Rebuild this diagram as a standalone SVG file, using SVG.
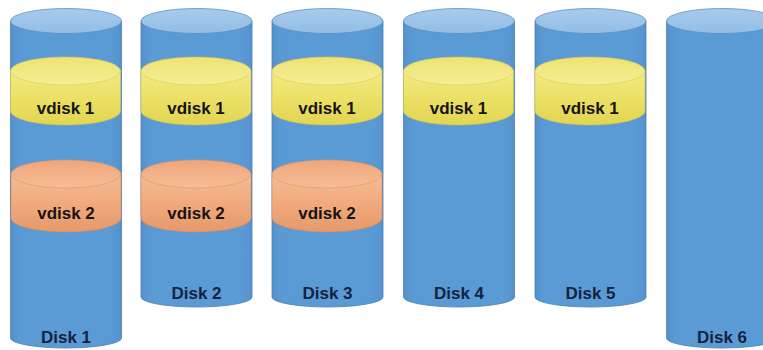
<svg xmlns="http://www.w3.org/2000/svg" width="763" height="350" viewBox="0 0 763 350">
<defs>
<linearGradient id="bodyG" x1="0" y1="0" x2="1" y2="0">
<stop offset="0" stop-color="#5592cd"/>
<stop offset="0.1" stop-color="#5b9bd5"/>
<stop offset="0.9" stop-color="#5b9bd5"/>
<stop offset="1" stop-color="#5592cd"/>
</linearGradient>
<linearGradient id="topG" x1="0" y1="0" x2="0" y2="1">
<stop offset="0" stop-color="#a7cbec"/>
<stop offset="1" stop-color="#93bde5"/>
</linearGradient>
<linearGradient id="yelSide" x1="0" y1="0" x2="0" y2="1">
<stop offset="0" stop-color="#f3ea86"/>
<stop offset="0.5" stop-color="#ece066"/>
<stop offset="1" stop-color="#e2d552"/>
</linearGradient>
<linearGradient id="yelTop" x1="0" y1="0" x2="0" y2="1">
<stop offset="0" stop-color="#eee272"/>
<stop offset="1" stop-color="#f6ee96"/>
</linearGradient>
<linearGradient id="orSide" x1="0" y1="0" x2="0" y2="1">
<stop offset="0" stop-color="#f6bc96"/>
<stop offset="0.5" stop-color="#f1aa7c"/>
<stop offset="1" stop-color="#e6996a"/>
</linearGradient>
<linearGradient id="orTop" x1="0" y1="0" x2="0" y2="1">
<stop offset="0" stop-color="#efa67a"/>
<stop offset="1" stop-color="#f6bd98"/>
</linearGradient>
</defs>
<style>
.body{fill:url(#bodyG);stroke:#4a7fb3;stroke-width:0.8}
.top{fill:url(#topG);stroke:#5a8fc4;stroke-width:0.8}
.ys{fill:url(#yelSide);stroke:#d2c347;stroke-width:0.6}
.yt{fill:url(#yelTop);stroke:#d9cb4a;stroke-width:0.6}
.os{fill:url(#orSide);stroke:#d98a5c;stroke-width:0.6}
.ot{fill:url(#orTop);stroke:#de9367;stroke-width:0.6}
.lbl{font-family:"Liberation Sans","Noto Sans",Arial,sans-serif;font-weight:bold;font-size:17px;text-anchor:middle}
.dl{fill:#15223f}
.vl{fill:#151515}
</style>
<rect width="763" height="350" fill="#ffffff"/>

<g id="disk1">
<path class="body" d="M10.5,21 L10.5,338 A55.5,10 0 0 0 121.5,338 L121.5,21 Z"/>
<ellipse class="top" cx="66" cy="21" rx="55.5" ry="12.5"/>
<text class="lbl dl" x="66" y="343">Disk 1</text>
</g>
<g id="disk2">
<path class="body" d="M141,21 L141,297 A55.5,10 0 0 0 252,297 L252,21 Z"/>
<ellipse class="top" cx="196.5" cy="21" rx="55.5" ry="12.5"/>
<text class="lbl dl" x="196.5" y="299">Disk 2</text>
</g>
<g id="disk3">
<path class="body" d="M272,21 L272,297 A55.5,10 0 0 0 383,297 L383,21 Z"/>
<ellipse class="top" cx="327.5" cy="21" rx="55.5" ry="12.5"/>
<text class="lbl dl" x="327.5" y="299">Disk 3</text>
</g>
<g id="disk4">
<path class="body" d="M403.5,21 L403.5,297 A55.5,10 0 0 0 514.5,297 L514.5,21 Z"/>
<ellipse class="top" cx="459" cy="21" rx="55.5" ry="12.5"/>
<text class="lbl dl" x="459" y="299">Disk 4</text>
</g>
<g id="disk5">
<path class="body" d="M535,21 L535,297 A55.5,10 0 0 0 646,297 L646,21 Z"/>
<ellipse class="top" cx="590.5" cy="21" rx="55.5" ry="12.5"/>
<text class="lbl dl" x="590.5" y="299">Disk 5</text>
</g>
<g id="disk6">
<path class="body" d="M666.5,21 L666.5,338 A55.5,10 0 0 0 777.5,338 L777.5,21 Z"/>
<ellipse class="top" cx="722" cy="21" rx="55.5" ry="12.5"/>
<text class="lbl dl" x="722" y="343">Disk 6</text>
</g>

<g id="vdisk1-d1">
<path class="ys" d="M10.5,71 L10.5,111 A55,14 0 0 0 120.5,111 L120.5,71 Z"/>
<ellipse class="yt" cx="65.5" cy="71" rx="55" ry="14"/>
<text class="lbl vl" x="65.5" y="114">vdisk 1</text>
</g>
<g id="vdisk1-d2">
<path class="ys" d="M141,71 L141,111 A55,14 0 0 0 251,111 L251,71 Z"/>
<ellipse class="yt" cx="196" cy="71" rx="55" ry="14"/>
<text class="lbl vl" x="196" y="114">vdisk 1</text>
</g>
<g id="vdisk1-d3">
<path class="ys" d="M272,71 L272,111 A55,14 0 0 0 382,111 L382,71 Z"/>
<ellipse class="yt" cx="327" cy="71" rx="55" ry="14"/>
<text class="lbl vl" x="327" y="114">vdisk 1</text>
</g>
<g id="vdisk1-d4">
<path class="ys" d="M403.5,71 L403.5,111 A55,14 0 0 0 513.5,111 L513.5,71 Z"/>
<ellipse class="yt" cx="458.5" cy="71" rx="55" ry="14"/>
<text class="lbl vl" x="458.5" y="114">vdisk 1</text>
</g>
<g id="vdisk1-d5">
<path class="ys" d="M535,71 L535,111 A55,14 0 0 0 645,111 L645,71 Z"/>
<ellipse class="yt" cx="590" cy="71" rx="55" ry="14"/>
<text class="lbl vl" x="590" y="114">vdisk 1</text>
</g>

<g id="vdisk2-d1">
<path class="os" d="M11,174 L11,218 A55,14 0 0 0 121,218 L121,174 Z"/>
<ellipse class="ot" cx="66" cy="174" rx="55" ry="14"/>
<text class="lbl vl" x="66" y="219">vdisk 2</text>
</g>
<g id="vdisk2-d2">
<path class="os" d="M141,174 L141,218 A55,14 0 0 0 251,218 L251,174 Z"/>
<ellipse class="ot" cx="196" cy="174" rx="55" ry="14"/>
<text class="lbl vl" x="196" y="219">vdisk 2</text>
</g>
<g id="vdisk2-d3">
<path class="os" d="M272,174 L272,218 A55,14 0 0 0 382,218 L382,174 Z"/>
<ellipse class="ot" cx="327" cy="174" rx="55" ry="14"/>
<text class="lbl vl" x="327" y="219">vdisk 2</text>
</g>
<g id="connectors"/>
</svg>
